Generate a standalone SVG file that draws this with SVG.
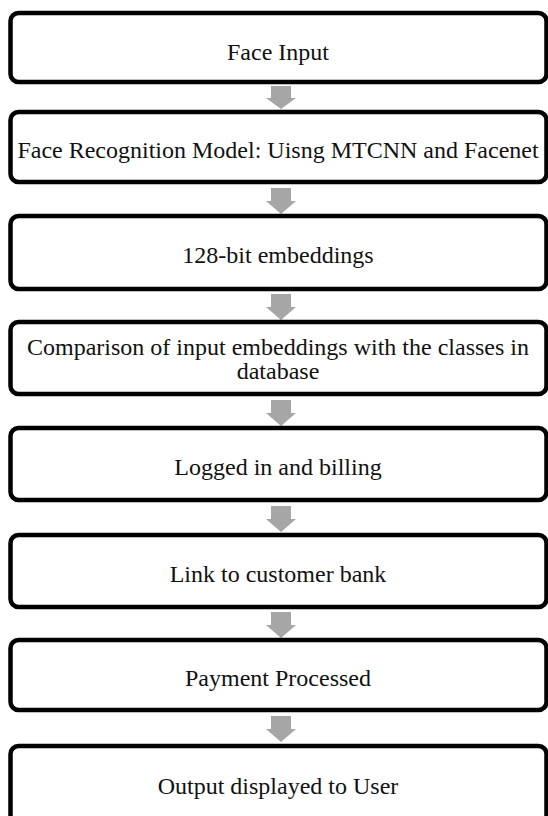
<svg xmlns="http://www.w3.org/2000/svg" width="548" height="816" viewBox="0 0 548 816">
  <style>
    .box { fill: #ffffff; stroke: #000000; stroke-width: 4.5; }
    .lbl { font-family: "Liberation Serif", "Times New Roman", serif; font-size: 24px; fill: #111111; text-anchor: middle; }
    .arrow { fill: #a6a6a6; }
  </style>
  <rect width="548" height="816" fill="#ffffff"/>

  <!-- block arrows between steps -->
  <g id="connectors">
    <path class="arrow" d="M271,86 H291 V98 H296 L281,109 L266,98 H271 Z"/>
    <path class="arrow" d="M271,188 H291 V201 H296 L281,214 L266,201 H271 Z"/>
    <path class="arrow" d="M271,294 H291 V307 H296 L281,320 L266,307 H271 Z"/>
    <path class="arrow" d="M271,400 H291 V413 H296 L281,426 L266,413 H271 Z"/>
    <path class="arrow" d="M271,506 H291 V519 H296 L281,532 L266,519 H271 Z"/>
    <path class="arrow" d="M271,612 H291 V625 H296 L281,638 L266,625 H271 Z"/>
    <path class="arrow" d="M271,716 H291 V729 H296 L281,742 L266,729 H271 Z"/>
  </g>

  <g id="face-input">
    <rect class="box" x="10.5" y="13" width="536" height="69" rx="8"/>
    <text class="lbl" x="278" y="60">Face Input</text>
  </g>
  <g id="recognition-model">
    <rect class="box" x="10.5" y="112" width="536" height="70" rx="8"/>
    <text class="lbl" x="278" y="158">Face Recognition Model: Uisng MTCNN and Facenet</text>
  </g>
  <g id="embeddings">
    <rect class="box" x="10.5" y="216" width="536" height="73" rx="8"/>
    <text class="lbl" x="278" y="263">128-bit embeddings</text>
  </g>
  <g id="comparison">
    <rect class="box" x="10.5" y="322" width="536" height="72" rx="8"/>
    <text class="lbl" x="278" y="355">Comparison of input embeddings with the classes in</text>
    <text class="lbl" x="278" y="379">database</text>
  </g>
  <g id="login-billing">
    <rect class="box" x="10.5" y="428" width="536" height="72" rx="8"/>
    <text class="lbl" x="278" y="475">Logged in and billing</text>
  </g>
  <g id="bank-link">
    <rect class="box" x="10.5" y="535" width="536" height="72" rx="8"/>
    <text class="lbl" x="278" y="582">Link to customer bank</text>
  </g>
  <g id="payment">
    <rect class="box" x="10.5" y="640" width="536" height="70" rx="8"/>
    <text class="lbl" x="278" y="686">Payment Processed</text>
  </g>
  <g id="output">
    <rect class="box" x="10.5" y="746" width="536" height="90" rx="8"/>
    <text class="lbl" x="278" y="794">Output displayed to User</text>
  </g>
</svg>
